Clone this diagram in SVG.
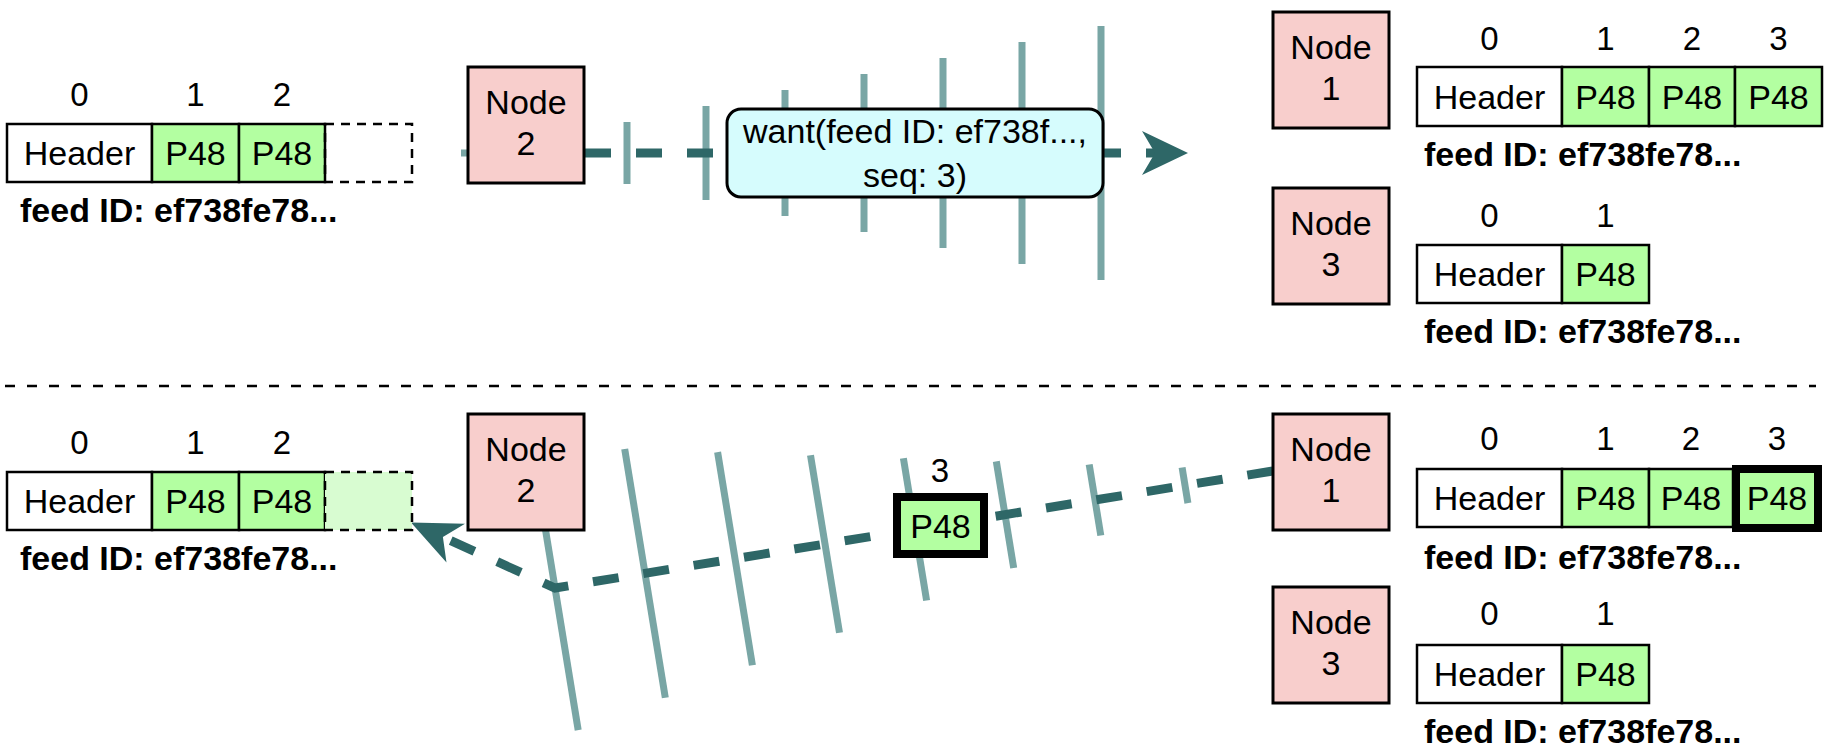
<svg xmlns="http://www.w3.org/2000/svg" width="1832" height="750" viewBox="0 0 1832 750">
<style>
.node{fill:#f8cecc;stroke:#000;stroke-width:3}
.cell{stroke:#000;stroke-width:2.5}
.hdr{fill:#fff}
.p48{fill:#b3ffa1}
.ghost{fill:none;stroke:#000;stroke-width:2.5;stroke-dasharray:9 7}
.ghostfill{fill:#d8fcd1}
.hl{fill:#b3ffa1;stroke:#000;stroke-width:8}
.t{font-family:"Liberation Sans",Arial,Helvetica,sans-serif;font-size:34px;text-anchor:middle;fill:#000}
.idx{font-size:33px}
.fid{font-weight:bold;text-anchor:start}
.wave{stroke:#79a6a5;stroke-width:7;fill:none}
.conn{stroke:#2e6767;stroke-width:9;stroke-dasharray:26 25;fill:none}
.arrow{fill:#2e6767}
.sep{stroke:#000;stroke-width:2.5;stroke-dasharray:10 12}
.msg{fill:#d6fcfd;stroke:#000;stroke-width:3}
</style>

<line class="sep" x1="5" y1="386" x2="1816" y2="386"/>

<g id="waves-top">
<line class="wave" x1="461" y1="153" x2="470" y2="153"/>
<line class="wave" x1="627" y1="122" x2="627" y2="184"/>
<line class="wave" x1="706" y1="106" x2="706" y2="200"/>
<line class="wave" x1="785" y1="90" x2="785" y2="216"/>
<line class="wave" x1="864" y1="74" x2="864" y2="232"/>
<line class="wave" x1="943" y1="58" x2="943" y2="248"/>
<line class="wave" x1="1022" y1="42" x2="1022" y2="264"/>
<line class="wave" x1="1101" y1="26" x2="1101" y2="280"/>
</g>

<g id="waves-bottom">
<line class="wave" x1="531.8" y1="445.9" x2="578.2" y2="730.1"/>
<line class="wave" x1="624.7" y1="449.0" x2="665.3" y2="697.8"/>
<line class="wave" x1="717.6" y1="452.1" x2="752.4" y2="665.3"/>
<line class="wave" x1="810.5" y1="455.2" x2="839.5" y2="632.8"/>
<line class="wave" x1="903.4" y1="458.3" x2="926.6" y2="600.5"/>
<line class="wave" x1="996.3" y1="461.4" x2="1013.7" y2="568.0"/>
<line class="wave" x1="1089.2" y1="464.5" x2="1100.8" y2="535.5"/>
<line class="wave" x1="1182.1" y1="467.5" x2="1187.9" y2="503.1"/>
</g>

<g id="connectors">
<line class="conn" x1="463" y1="153" x2="1155" y2="153" stroke-dashoffset="31"/>
<polygon class="arrow" points="1188,153 1142,131 1155,153 1142,175"/>
<polyline class="conn" points="1273,471 555,588 443,537"/>
<polygon class="arrow" points="411,522.5 465,523.8 442.9,537.1 446.5,562.5"/>
</g>

<g id="want-message">
<rect class="msg" x="727" y="109" width="376" height="88" rx="14"/>
<text class="t" x="915" y="143">want(feed ID: ef738f...,</text>
<text class="t" x="915" y="187">seq: 3)</text>
</g>

<g id="sent-entry">
<text class="t idx" x="940" y="482">3</text>
<rect class="hl" x="897" y="497" width="87" height="57"/>
<text class="t" x="940.5" y="537.5">P48</text>
</g>

<g id="node2-top">
<rect class="node" x="468" y="67" width="116" height="116"/>
<text class="t" x="526" y="114">Node</text>
<text class="t" x="526" y="155">2</text>
</g>
<g id="node1-top">
<rect class="node" x="1273" y="12" width="116" height="116"/>
<text class="t" x="1331" y="59">Node</text>
<text class="t" x="1331" y="100">1</text>
</g>
<g id="node3-top">
<rect class="node" x="1273" y="188" width="116" height="116"/>
<text class="t" x="1331" y="235">Node</text>
<text class="t" x="1331" y="276">3</text>
</g>
<g id="node2-bottom">
<rect class="node" x="468" y="414" width="116" height="116"/>
<text class="t" x="526" y="461">Node</text>
<text class="t" x="526" y="502">2</text>
</g>
<g id="node1-bottom">
<rect class="node" x="1273" y="414" width="116" height="116"/>
<text class="t" x="1331" y="461">Node</text>
<text class="t" x="1331" y="502">1</text>
</g>
<g id="node3-bottom">
<rect class="node" x="1273" y="587" width="116" height="116"/>
<text class="t" x="1331" y="634">Node</text>
<text class="t" x="1331" y="675">3</text>
</g>

<g id="feed-node2-top">
<text class="t idx" x="79.5" y="106">0</text>
<text class="t idx" x="195.5" y="106">1</text>
<text class="t idx" x="282" y="106">2</text>
<rect class="cell hdr" x="7" y="124" width="145" height="58"/>
<rect class="cell p48" x="152" y="124" width="87" height="58"/>
<rect class="cell p48" x="239" y="124" width="86" height="58"/>
<rect class="ghost" x="325" y="124" width="87" height="58"/>
<text class="t" x="79.5" y="165">Header</text>
<text class="t" x="195.5" y="165">P48</text>
<text class="t" x="282" y="165">P48</text>
<text class="t fid" x="20" y="222">feed ID: ef738fe78...</text>
</g>

<g id="feed-node1-top">
<text class="t idx" x="1489.5" y="50">0</text>
<text class="t idx" x="1605.5" y="50">1</text>
<text class="t idx" x="1692" y="50">2</text>
<text class="t idx" x="1778.5" y="50">3</text>
<rect class="cell hdr" x="1417" y="67" width="145" height="59"/>
<rect class="cell p48" x="1562" y="67" width="87" height="59"/>
<rect class="cell p48" x="1649" y="67" width="86" height="59"/>
<rect class="cell p48" x="1735" y="67" width="87" height="59"/>
<text class="t" x="1489.5" y="108.5">Header</text>
<text class="t" x="1605.5" y="108.5">P48</text>
<text class="t" x="1692" y="108.5">P48</text>
<text class="t" x="1778.5" y="108.5">P48</text>
<text class="t fid" x="1424" y="166">feed ID: ef738fe78...</text>
</g>

<g id="feed-node3-top">
<text class="t idx" x="1489.5" y="227">0</text>
<text class="t idx" x="1605.5" y="227">1</text>
<rect class="cell hdr" x="1417" y="245" width="145" height="58"/>
<rect class="cell p48" x="1562" y="245" width="87" height="58"/>
<text class="t" x="1489.5" y="286">Header</text>
<text class="t" x="1605.5" y="286">P48</text>
<text class="t fid" x="1424" y="343">feed ID: ef738fe78...</text>
</g>

<g id="feed-node2-bottom">
<text class="t idx" x="79.5" y="454">0</text>
<text class="t idx" x="195.5" y="454">1</text>
<text class="t idx" x="282" y="454">2</text>
<rect class="cell hdr" x="7" y="472" width="145" height="58"/>
<rect class="cell p48" x="152" y="472" width="87" height="58"/>
<rect class="cell p48" x="239" y="472" width="86" height="58"/>
<rect class="ghostfill" x="325" y="472" width="87" height="58"/>
<rect class="ghost" x="325" y="472" width="87" height="58"/>
<text class="t" x="79.5" y="513">Header</text>
<text class="t" x="195.5" y="513">P48</text>
<text class="t" x="282" y="513">P48</text>
<text class="t fid" x="20" y="570">feed ID: ef738fe78...</text>
</g>

<g id="feed-node1-bottom">
<text class="t idx" x="1489.5" y="450">0</text>
<text class="t idx" x="1605.5" y="450">1</text>
<text class="t idx" x="1691" y="450">2</text>
<text class="t idx" x="1777" y="450">3</text>
<rect class="cell hdr" x="1417" y="469" width="145" height="58"/>
<rect class="cell p48" x="1562" y="469" width="87" height="58"/>
<rect class="cell p48" x="1649" y="469" width="84" height="58"/>
<rect class="hl" x="1736" y="469" width="82" height="59"/>
<text class="t" x="1489.5" y="510">Header</text>
<text class="t" x="1605.5" y="510">P48</text>
<text class="t" x="1691" y="510">P48</text>
<text class="t" x="1777" y="510">P48</text>
<text class="t fid" x="1424" y="569">feed ID: ef738fe78...</text>
</g>

<g id="feed-node3-bottom">
<text class="t idx" x="1489.5" y="625">0</text>
<text class="t idx" x="1605.5" y="625">1</text>
<rect class="cell hdr" x="1417" y="645" width="145" height="58"/>
<rect class="cell p48" x="1562" y="645" width="87" height="58"/>
<text class="t" x="1489.5" y="686">Header</text>
<text class="t" x="1605.5" y="686">P48</text>
<text class="t fid" x="1424" y="743">feed ID: ef738fe78...</text>
</g>
</svg>
